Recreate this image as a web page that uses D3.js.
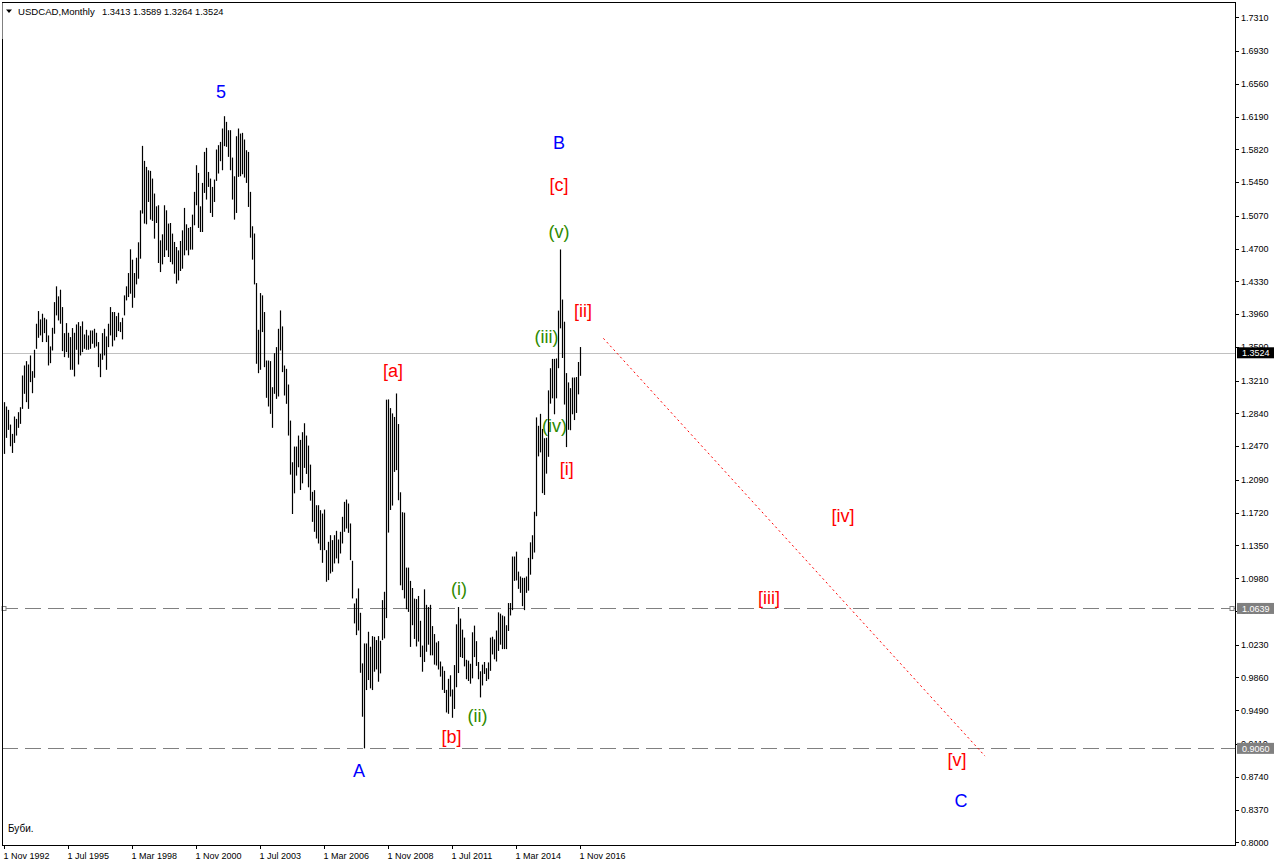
<!DOCTYPE html>
<html>
<head>
<meta charset="utf-8">
<script src="https://cdn.jsdelivr.net/npm/d3@7"></script>
<style>
  html, body { margin: 0; padding: 0; background: #ffffff; }
  svg { display: block; }
  text { font-family: "Liberation Sans", Arial, sans-serif; }
</style>
</head>
<body>
<svg id="chart" width="1276" height="866"></svg>
<script>
// ---------------- DATA ----------------
const symbol = "USDCAD,Monthly";
const headerValues = [1.3413, 1.3589, 1.3264, 1.3524]; // O H L C of last bar

// Monthly bars, 1 Nov 1992 ... 1 Nov 2016 (289 months)
const highs = [
1.2967,1.2918,1.2880,1.2714,1.2609,1.2805,1.2778,1.2854,1.2910,1.3268,
1.3381,1.3430,1.3392,1.3494,1.3317,1.3558,1.3852,1.3995,1.3901,1.3965,
1.3919,1.3901,1.3720,1.3596,1.3806,1.4096,1.4274,1.4161,1.4236,1.4040,
1.3746,1.3859,1.3750,1.3701,1.3803,1.3750,1.3844,1.3870,1.3825,1.3878,
1.3731,1.3784,1.3720,1.3776,1.3776,1.3795,1.3750,1.3645,1.3513,1.3746,
1.3795,1.3709,1.3852,1.4040,1.3984,1.3984,1.3938,1.3976,1.3870,1.3919,
1.4172,1.4274,1.4424,1.4692,1.4575,1.4424,1.4597,1.4771,1.5132,1.5859,
1.5690,1.5622,1.5584,1.5577,1.5490,1.5321,1.5177,1.5189,1.4793,1.4861,
1.5189,1.5132,1.4982,1.4989,1.4869,1.4775,1.4718,1.4680,1.4786,1.4906,
1.5159,1.4974,1.4933,1.4944,1.5083,1.5340,1.5641,1.5554,1.5177,1.5441,
1.5791,1.5837,1.5565,1.5490,1.5396,1.5479,1.5818,1.5867,1.5904,1.6055,
1.6194,1.6130,1.6036,1.6036,1.5727,1.5516,1.5968,1.6055,1.5998,1.6006,
1.5931,1.5810,1.5791,1.5340,1.4952,1.4870,1.4311,1.3784,1.4198,1.4172,
1.3984,1.3437,1.3437,1.3430,1.3136,1.3520,1.3588,1.3795,1.4002,1.3822,
1.3381,1.3343,1.3166,1.2759,1.2289,1.2466,1.2466,1.2590,1.2541,1.2628,
1.2729,1.2590,1.2477,1.2262,1.1955,1.1974,1.1804,1.1804,1.1748,1.1710,
1.1755,1.1297,1.1391,1.1466,1.1410,1.1466,1.1515,1.1417,1.1504,1.1673,
1.1842,1.1868,1.1823,1.1598,1.1177,1.0695,1.0752,1.0865,1.0590,1.0019,
1.0244,1.0244,1.0376,1.0207,1.0327,1.0319,1.0282,1.0327,1.0274,1.0733,
1.0827,1.2995,1.2998,1.2900,1.2840,1.2800,1.3065,1.2720,1.1950,1.1725,
1.1720,1.1100,1.1100,1.0950,1.0870,1.0750,1.0745,1.0780,1.0500,1.0220,
1.0855,1.0680,1.0655,1.0680,1.0440,1.0350,1.0255,1.0270,1.0040,0.9985,
0.9935,0.9720,0.9845,0.9885,0.9725,1.0000,1.0460,1.0655,1.0525,1.0400,
1.0310,1.0060,1.0050,1.0015,1.0370,1.0445,1.0270,1.0035,0.9930,1.0005,
1.0035,0.9965,1.0030,1.0310,1.0320,1.0290,1.0390,1.0595,1.0580,1.0560,
1.0550,1.0450,1.0700,1.0700,1.1225,1.1225,1.1280,1.1055,1.1000,1.0985,
1.0985,1.1000,1.1210,1.1385,1.1465,1.1730,1.2795,1.2700,1.2835,1.2665,
1.2560,1.2565,1.3100,1.3350,1.3455,1.3455,1.3460,1.4000,1.4690,1.4125,
1.3875,1.3295,1.3190,1.3125,1.3245,1.3245,1.3250,1.3420,1.3589
];
const lows = [
1.2383,1.2564,1.2654,1.2469,1.2394,1.2507,1.2590,1.2677,1.2722,1.2891,
1.3061,1.2967,1.2891,1.3193,1.3068,1.3242,1.3569,1.3693,1.3720,1.3645,
1.3746,1.3645,1.3381,1.3407,1.3550,1.3739,1.3946,1.3889,1.3852,1.3543,
1.3475,1.3532,1.3468,1.3332,1.3332,1.3257,1.3558,1.3392,1.3494,1.3532,
1.3569,1.3558,1.3558,1.3569,1.3626,1.3581,1.3596,1.3362,1.3249,1.3445,
1.3494,1.3332,1.3588,1.3720,1.3596,1.3663,1.3701,1.3769,1.3758,1.3675,
1.3946,1.4115,1.4153,1.4191,1.4032,1.4145,1.4296,1.4360,1.4586,1.5095,
1.4982,1.4974,1.5226,1.5027,1.5012,1.4812,1.4989,1.4537,1.4435,1.4522,
1.4605,1.4680,1.4605,1.4548,1.4522,1.4417,1.4304,1.4341,1.4447,1.4473,
1.4624,1.4680,1.4624,1.4688,1.4688,1.4963,1.5189,1.4933,1.4887,1.4887,
1.5328,1.5253,1.5396,1.5102,1.5057,1.5226,1.5464,1.5547,1.5686,1.5584,
1.5856,1.5848,1.5735,1.5584,1.5253,1.5027,1.5102,1.5509,1.5516,1.5539,
1.5501,1.5441,1.5170,1.4823,1.4575,1.4296,1.3400,1.3294,1.3332,1.3758,
1.3362,1.3016,1.2918,1.2835,1.2677,1.3061,1.3004,1.3031,1.3550,1.3306,
1.3042,1.2948,1.2590,1.2149,1.1705,1.1938,1.2138,1.2232,1.1976,1.2051,
1.2225,1.2157,1.2006,1.1855,1.1616,1.1504,1.1428,1.1372,1.1297,1.1154,
1.1297,1.0940,1.0959,1.1034,1.1053,1.1147,1.1203,1.1147,1.1259,1.1372,
1.1504,1.1541,1.1492,1.1184,1.0752,1.0470,1.0338,1.0390,0.9913,0.9417,
0.9060,0.9718,0.9831,0.9737,0.9718,0.9925,0.9951,0.9812,0.9906,1.0282,
1.0301,1.0530,1.1495,1.1750,1.1800,1.2180,1.2200,1.1860,1.0900,1.0846,
1.0752,1.0630,1.0600,1.0205,1.0450,1.0295,1.0210,1.0265,1.0090,0.9925,
1.0035,1.0150,1.0230,1.0110,1.0110,1.0005,0.9995,0.9950,0.9870,0.9720,
0.9685,0.9465,0.9450,0.9645,0.9405,0.9505,0.9750,0.9910,1.0090,1.0080,
0.9985,0.9840,0.9820,0.9790,0.9850,1.0090,0.9990,0.9840,0.9635,0.9770,
0.9900,0.9820,0.9840,0.9935,1.0120,1.0065,1.0040,1.0160,1.0230,1.0180,
1.0180,1.0180,1.0385,1.0560,1.0620,1.0950,1.0955,1.0860,1.0815,1.0665,
1.0620,1.0815,1.0840,1.1020,1.1195,1.1270,1.1680,1.2355,1.2400,1.1940,
1.1920,1.2160,1.2350,1.2950,1.3010,1.2830,1.3010,1.3350,1.3800,1.3465,
1.2940,1.2460,1.2655,1.2650,1.2830,1.2765,1.2845,1.3055,1.3264
];

const xTickIndex = [0, 32, 64, 96, 128, 160, 192, 224, 256, 288];
const xTickLabels = ["1 Nov 1992","1 Jul 1995","1 Mar 1998","1 Nov 2000","1 Jul 2003",
                     "1 Mar 2006","1 Nov 2008","1 Jul 2011","1 Mar 2014","1 Nov 2016"];
const yTickValues = [1.7310,1.6930,1.6560,1.6190,1.5820,1.5450,1.5070,1.4700,1.4330,1.3960,
                     1.3590,1.3210,1.2840,1.2470,1.2090,1.1720,1.1350,1.0980,1.0610,1.0230,
                     0.9860,0.9490,0.9110,0.8740,0.8370,0.8000];

const lastPrice = 1.3524;
const levelLines = [1.0639, 0.9060];

// Elliott wave labels: [text, bar index, price, kind]
const waveLabels = [
  ["5",     108.5, 1.6467, "blue"],
  ["B",     277.5, 1.5891, "blue"],
  ["[c]",   277.5, 1.5417, "red"],
  ["(v)",   277.5, 1.4890, "green"],
  ["[ii]",  289.5, 1.4000, "red"],
  ["(iii)", 271.3, 1.3702, "green"],
  ["[a]",   194.5, 1.3325, "red"],
  ["(iv)",  275.3, 1.2700, "green"],
  ["[i]",   281.4, 1.2215, "red"],
  ["[iv]",  419.5, 1.1682, "red"],
  ["(i)",   227.5, 1.0858, "green"],
  ["[iii]", 382.5, 1.0757, "red"],
  ["(ii)",  236.7, 0.9430, "green"],
  ["[b]",   223.8, 0.9192, "red"],
  ["A",     177.5, 0.8804, "blue"],
  ["[v]",   476.5, 0.8929, "red"],
  ["C",     478.5, 0.8466, "blue"]
];
// Projected trend line (bar index, price)
const trendLine = [[299.7, 1.3687], [490.5, 0.8973]];
const noteText = "Буби.";

// ---------------- DRAW ----------------
(function () {
const svg = d3.select("#chart");
const W = 1276, H = 866;
const pLeft = 2, pTop = 2, pRight = 1235, pBottom = 845;

const x = d3.scaleLinear().domain([0, 288]).range([4, 580]);
const y = d3.scaleLinear().domain([0.8, 1.731]).range([842.3, 17.3]);

const colors = { blue: "#0000ff", red: "#ff0000", green: "#2f8a00" };

svg.append("rect").attr("width", W).attr("height", H).attr("fill", "#ffffff");

// last price line
svg.append("line")
  .attr("x1", pLeft).attr("x2", pRight)
  .attr("y1", Math.round(y(lastPrice)) + 0.5).attr("y2", Math.round(y(lastPrice)) + 0.5)
  .attr("stroke", "#c0c0c0").attr("stroke-width", 1);

// horizontal dashed level lines
levelLines.forEach(v => {
  const yy = Math.round(y(v)) + 0.5;
  svg.append("line")
    .attr("x1", pLeft).attr("x2", pRight)
    .attr("y1", yy).attr("y2", yy)
    .attr("stroke", "#808080").attr("stroke-width", 1)
    .attr("stroke-dasharray", "16,7");
});

// bars
svg.append("g").selectAll("line")
  .data(d3.range(highs.length))
  .join("line")
  .attr("x1", i => Math.round(x(i)) + 0.5)
  .attr("x2", i => Math.round(x(i)) + 0.5)
  .attr("y1", i => y(highs[i]))
  .attr("y2", i => y(lows[i]))
  .attr("stroke", "#000")
  .attr("stroke-width", 1.2);

// trend line
svg.append("line")
  .attr("x1", x(trendLine[0][0])).attr("y1", y(trendLine[0][1]))
  .attr("x2", x(trendLine[1][0])).attr("y2", y(trendLine[1][1]))
  .attr("stroke", "#ff0000").attr("stroke-width", 1)
  .attr("stroke-dasharray", "2,3");

// selection squares on first level line
{
  const yy = Math.round(y(levelLines[0])) + 0.5;
  [4, 1232].forEach(px => {
    svg.append("rect").attr("x", px - 2).attr("y", yy - 2).attr("width", 4).attr("height", 4)
      .attr("fill", "#fff").attr("stroke", "#808080").attr("stroke-width", 1);
  });
}

// frame
svg.append("rect")
  .attr("x", pLeft + 0.5).attr("y", pTop + 0.5)
  .attr("width", pRight - pLeft).attr("height", pBottom - pTop)
  .attr("fill", "none").attr("stroke", "#000").attr("stroke-width", 1);

// right axis
const yAxisG = svg.append("g");
yTickValues.forEach(v => {
  const yy = y(v);
  yAxisG.append("line").attr("x1", pRight).attr("x2", pRight + 4)
    .attr("y1", Math.round(yy) + 0.5).attr("y2", Math.round(yy) + 0.5)
    .attr("stroke", "#000");
  yAxisG.append("text").attr("x", pRight + 6).attr("y", yy + 3.3)
    .attr("font-size", 9).attr("fill", "#000").text(v.toFixed(4));
});

// bottom axis
const xAxisG = svg.append("g");
xTickIndex.forEach((idx, k) => {
  const xx = Math.round(x(idx)) + 0.5;
  xAxisG.append("line").attr("x1", xx).attr("x2", xx)
    .attr("y1", pBottom).attr("y2", pBottom + 4).attr("stroke", "#000");
  xAxisG.append("text").attr("x", xx - 1).attr("y", 859)
    .attr("font-size", 9).attr("fill", "#000").text(xTickLabels[k]);
});

// price boxes
function priceBox(v, bg) {
  const yy = y(v);
  svg.append("rect").attr("x", 1237).attr("y", yy - 5.5).attr("width", 37).attr("height", 11)
    .attr("fill", bg);
  svg.append("text").attr("x", 1242).attr("y", yy + 3.3)
    .attr("font-size", 9).attr("fill", "#fff").text(v.toFixed(4));
}
priceBox(lastPrice, "#000000");
levelLines.forEach(v => priceBox(v, "#808080"));

// wave labels
svg.append("g").selectAll("text")
  .data(waveLabels)
  .join("text")
  .attr("x", d => x(d[1]))
  .attr("y", d => y(d[2]))
  .attr("dy", "0.35em")
  .attr("text-anchor", "middle")
  .attr("font-size", 18)
  .attr("fill", d => colors[d[3]])
  .text(d => d[0]);

// header
svg.append("rect").attr("x", 0).attr("y", 3).attr("width", 2.5).attr("height", 36).attr("fill", "#fff");
svg.append("path").attr("d", "M6,9.5 L12,9.5 L9,13 Z").attr("fill", "#000");
svg.append("text").attr("x", 18).attr("y", 15).attr("font-size", 9.6).attr("fill", "#000").text(symbol);
svg.append("text").attr("x", 102).attr("y", 15).attr("font-size", 9.3).attr("fill", "#000")
  .text(headerValues.map(v => v.toFixed(4)).join(" "));

// note
svg.append("text").attr("x", 8).attr("y", 832).attr("font-size", 10).attr("fill", "#000").text(noteText);
})();
</script>
</body>
</html>
